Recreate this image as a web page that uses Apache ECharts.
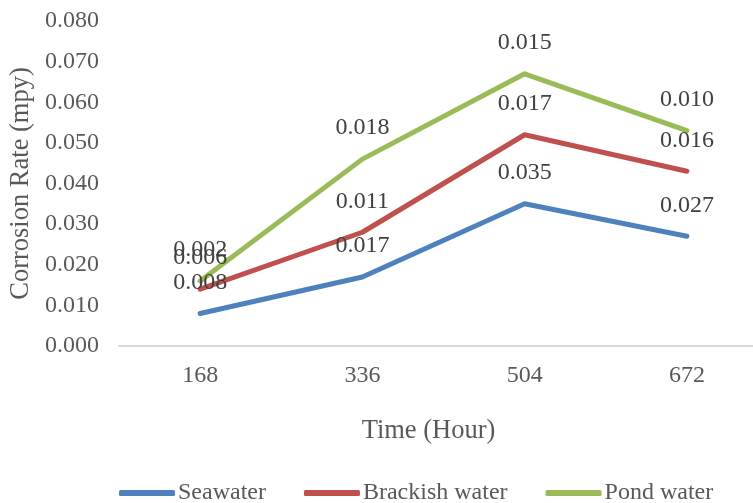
<!DOCTYPE html>
<html>
<head>
<meta charset="utf-8">
<script src="https://cdn.jsdelivr.net/npm/echarts@6/dist/echarts.min.js"></script>
<style>html,body{margin:0;padding:0;background:#fff;}#c{width:753px;height:503px;}</style>
</head>
<body>
<div id="c"></div>
<script>
const categories = ['168', '336', '504', '672'];
const seawater = [0.008, 0.017, 0.035, 0.027];
const brackish = [0.006, 0.011, 0.017, 0.016];
const pond = [0.002, 0.018, 0.015, 0.010];
const seriesNames = ['Seawater', 'Brackish water', 'Pond water'];
const colors = ['#4F81BD', '#C0504D', '#9BBB59'];

const FONT = "'Liberation Serif', 'Times New Roman', serif";
const chart = echarts.init(document.getElementById('c'));
function mk(name, data, color) {
  return {
    name: name, type: 'line', stack: 'total', data: data,
    symbol: 'circle', symbolSize: 2, showSymbol: true,
    lineStyle: { color: color, width: 5, cap: 'round', join: 'round' },
    itemStyle: { color: color },
    label: {
      show: true, position: 'top', distance: 18,
      formatter: p => Number(p.value).toFixed(3),
      fontFamily: FONT, fontSize: 24, color: '#404040'
    },
    emphasis: { disabled: true },
    animation: false
  };
}
chart.setOption({
  animation: false,
  backgroundColor: '#fff',
  grid: { left: 119, width: 649, top: 21, height: 325, containLabel: false, outerBoundsMode: 'none' },
  legend: {
    data: seriesNames, left: 114, top: 476, icon: 'roundRect',
    itemWidth: 56, itemHeight: 6, itemGap: 38,
    textStyle: { fontFamily: FONT, fontSize: 24, color: '#595959', padding: [0,0,0,-2] }
  },
  xAxis: {
    type: 'category', data: categories, boundaryGap: true,
    axisLine: { lineStyle: { color: '#D9D9D9', width: 2 } },
    axisTick: { show: false },
    axisLabel: { fontFamily: FONT, fontSize: 24, color: '#595959', margin: 18 },
    name: 'Time (Hour)', nameLocation: 'middle', nameGap: 72,
    nameTextStyle: { fontFamily: FONT, fontSize: 26.5, color: '#595959', padding: [0, 30, 0, 0] }
  },
  yAxis: {
    type: 'value', min: 0, max: 0.08, interval: 0.01,
    axisLine: { show: false }, axisTick: { show: false },
    splitLine: { show: false },
    axisLabel: { fontFamily: FONT, fontSize: 24, color: '#595959', margin: 20,
      formatter: v => v.toFixed(3) },
    name: 'Corrosion Rate (mpy)', nameLocation: 'middle', nameGap: 84,
    nameTextStyle: { fontFamily: FONT, fontSize: 26.5, color: '#595959' }
  },
  series: [
    mk(seriesNames[0], seawater, colors[0]),
    mk(seriesNames[1], brackish, colors[1]),
    mk(seriesNames[2], pond, colors[2])
  ]
});
</script>
</body>
</html>
